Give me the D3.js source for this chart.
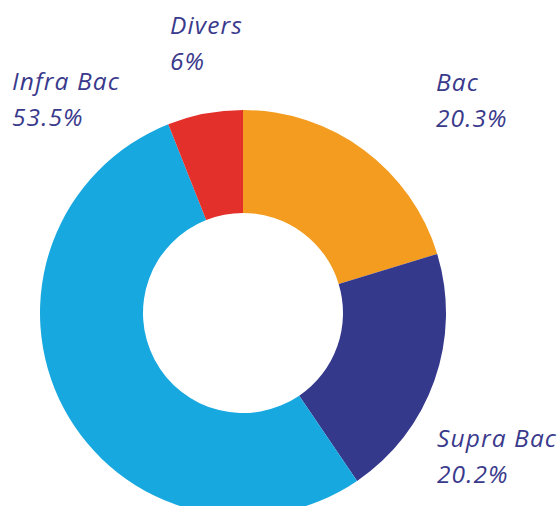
<!DOCTYPE html>
<html>
<head>
<meta charset="utf-8">
<script src="https://cdn.jsdelivr.net/npm/d3@7"></script>
<style>
  body { margin: 0; background: #fff; }
  text { font-family: "Open Sans", Roboto, sans-serif; font-style: italic; }
</style>
</head>
<body>
<svg id="chart" width="558" height="506"></svg>
<script>
// parts of the donut, clockwise from the top
const labels = ["Bac", "Supra Bac", "Infra Bac", "Divers"];
const values = [20.3, 20.2, 53.5, 6];
const pctText = ["20.3%", "20.2%", "53.5%", "6%"];
const colrs = ["#f39c1f", "#35398c", "#18a8e0", "#e3302a"];

const cx = 243, cy = 313;       // centre of the ring
const rOut = 203, rIn = 100;
const txtColor = "#3a3a8c";

// label spots (left x, baseline of first line)
const labPos = [[436, 91], [437, 447], [12, 90], [170, 34]];

const svg = d3.select("#chart");
const g = svg.append("g").attr("transform", "translate(" + cx + "," + cy + ")");

const pie = d3.pie().sort(null).value(d => d);
const arc = d3.arc().innerRadius(rIn).outerRadius(rOut);

g.selectAll("path").data(pie(values)).join("path")
   .attr("d", arc)
   .attr("fill", (d, i) => colrs[i]);

for (let i = 0; i < labels.length; i++) {
   const t = svg.append("text").attr("x", labPos[i][0]).attr("y", labPos[i][1])
      .attr("fill", txtColor).attr("font-size", 24.5).attr("letter-spacing", 1.1);
   t.append("tspan").attr("x", labPos[i][0]).text(labels[i]);
   t.append("tspan").attr("x", labPos[i][0]).attr("dy", 36).text(pctText[i]);
}
</script>
</body>
</html>
